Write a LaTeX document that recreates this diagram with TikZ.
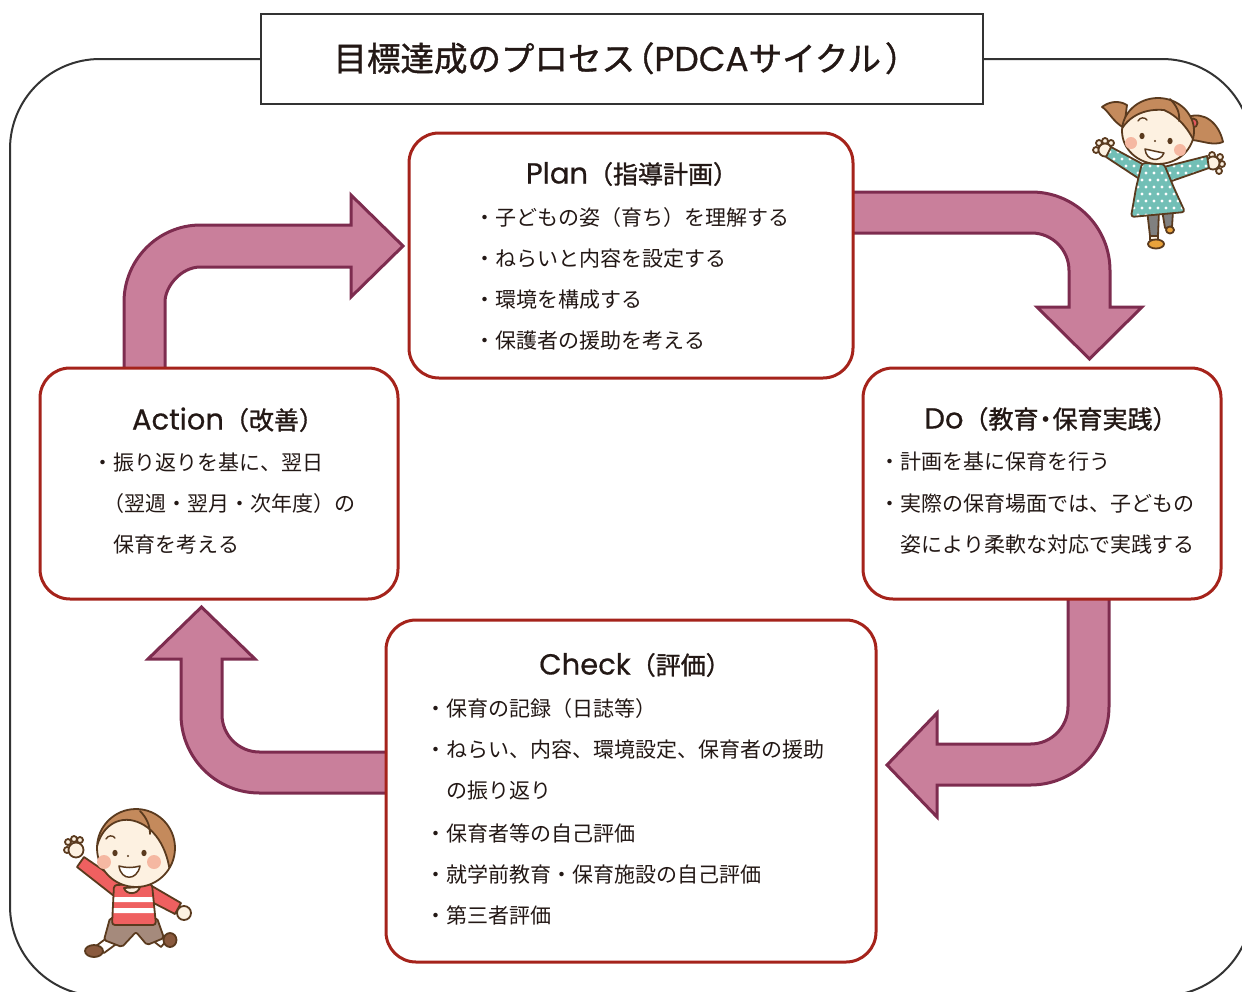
\documentclass[tikz,border=0pt]{standalone}
\usepackage{fontspec}
\setmainfont{Noto Sans CJK JP}
\newfontfamily\headfont{Noto Sans CJK JP}[FakeBold=1.2]
\newfontfamily\latinfont{Poppins}[FakeBold=0.5]

\definecolor{framegray}{HTML}{333333}
\definecolor{boxred}{HTML}{A5231B}
\definecolor{arrowpink}{HTML}{C97F9B}
\definecolor{arrowdark}{HTML}{7D2C4F}
\definecolor{ink}{HTML}{231815}
\definecolor{kidline}{HTML}{5A3A1E}
\definecolor{skin}{HTML}{FDF1E1}
\definecolor{cheek}{HTML}{F5B8A2}
\definecolor{hairbrown}{HTML}{C48A5C}
\definecolor{dressteal}{HTML}{72BFB6}
\definecolor{legsgray}{HTML}{808080}
\definecolor{shoeorange}{HTML}{E9A23B}
\definecolor{tiered}{HTML}{E4575F}
\definecolor{shirtred}{HTML}{EF6060}
\definecolor{shortsbrown}{HTML}{A58A7C}
\definecolor{shoebrown}{HTML}{8A5A3E}

% header text: Latin word in a geometric sans, Japanese in Noto
\newcommand{\hdlat}[1]{{\latinfont\fontsize{29}{30}\selectfont #1}}
\newcommand{\hdjp}[1]{{\headfont\fontsize{25}{30}\selectfont #1}}

\tikzset{
  frameline/.style={draw=framegray, line width=2pt},
  titlebox/.style={draw=framegray, line width=2pt, fill=white,
    minimum width=722pt, minimum height=90pt, inner sep=0pt},
  titletext/.style={text=ink, inner sep=0pt, anchor=base},
  stagebox/.style={draw=boxred, line width=3pt, fill=white,
    rounded corners=30pt, inner sep=0pt},
  blockarrow/.style={fill=arrowpink, draw=arrowdark, line width=3pt,
    line join=miter},
  stagetitle/.style={text=ink, inner sep=0pt, anchor=base},
  stageitem/.style={font=\fontsize{21}{25}\selectfont, text=ink,
    inner sep=0pt, anchor=west},
  kid/.style={draw=kidline, line width=1.8pt, line join=round, line cap=round},
  polka/.style={fill=dressteal, path picture={
    \foreach \yy in {0,...,14} {\foreach \xx in {0,...,18} {
      \fill[white] ({1094+8*\xx+4*mod(\yy,2)},{138+7*\yy}) circle (1.7pt);}}}},
}

\begin{document}
\begin{tikzpicture}[x=1pt, y=-1pt]
\path[use as bounding box] (0,0) rectangle (1242,991);

% outer frame
\begin{scope}
  \clip (0,0) rectangle (1242,991);
  \draw[frameline, rounded corners=90pt] (10,59) rectangle (1252,996);
\end{scope}

% title
\node[titlebox] (titlebox) at (622,59) {};
\node[titletext] (title) at (626,71)
  {{\headfont\fontsize{33.5}{38}\selectfont 目標達成のプロセス\kern-.42em（}%
   {\latinfont\fontsize{34.5}{38}\selectfont PDCA}%
   {\headfont\fontsize{33.5}{38}\selectfont サイクル\kern.12em）}};

% block arrows of the cycle
\draw[blockarrow] (124,380) -- (124,302)
  .. controls (124,259.75) and (158.25,225) .. (200.5,225) -- (351,225)
  -- (351,195) -- (403,246) -- (351,297) -- (351,267) -- (200.5,267)
  .. controls (180.9,267) and (165,286.6) .. (165,302) -- (165,380) -- cycle;
\draw[blockarrow] (840,192) -- (1031.5,192)
  .. controls (1074.9,192) and (1110,227.1) .. (1110,270.5) -- (1110,307)
  -- (1142,307) -- (1089.5,359) -- (1037,307) -- (1069,307) -- (1069,270.5)
  .. controls (1069,249.8) and (1052.2,233) .. (1031.5,233) -- (840,233) -- cycle;
\draw[blockarrow] (1068,590) -- (1109,590) -- (1109,706.5)
  .. controls (1109,749.9) and (1073.9,785) .. (1030.5,785) -- (937,785)
  -- (937,817) -- (887,765) -- (937,713) -- (937,744) -- (1030.5,744)
  .. controls (1051.2,744) and (1068,727.2) .. (1068,706.5) -- cycle;
\draw[blockarrow] (400,752) -- (400,793) -- (259.5,793)
  .. controls (216.1,793) and (181,757.9) .. (181,714.5) -- (181,659)
  -- (148,659) -- (201.5,607) -- (255,659) -- (222,659) -- (222,714.5)
  .. controls (222,735.2) and (238.8,752) .. (259.5,752) -- cycle;

% stage boxes
\node[stagebox, minimum width=444pt, minimum height=245pt] (plan) at (631,255.5) {};
\node[stagebox, minimum width=358pt, minimum height=231pt] (do) at (1042,483.5) {};
\node[stagebox, minimum width=358pt, minimum height=231pt] (action) at (219,483.5) {};
\node[stagebox, minimum width=490pt, minimum height=342pt] (check) at (631,791) {};

% Plan
\node[stagetitle] (planT) at (632,183.5) {\hdlat{Plan}\hdjp{（指導計画）}};
\node[stageitem] (plan1) at (474.5,217.5) {・子どもの姿（育ち）を理解する};
\node[stageitem] (plan2) at (474.5,258.5) {・ねらいと内容を設定する};
\node[stageitem] (plan3) at (474.5,300) {・環境を構成する};
\node[stageitem] (plan4) at (474.5,341) {・保護者の援助を考える};

% Do
\node[stagetitle] (doT) at (1051,428.5)
  {\hdlat{Do}\hdjp{（教育\kern-.22em・\kern-.22em保育実践）}};
\node[stageitem] (do1) at (879.5,462) {・計画を基に保育を行う};
\node[stageitem] (do2) at (879.5,503.5) {・実際の保育場面では、子どもの};
\node[stageitem] (do3) at (900.5,545) {姿により柔軟な対応で実践する};

% Action
\node[stagetitle] (actT) at (228,429.5) {\hdlat{Action}\hdjp{（改善）}};
\node[stageitem] (act1) at (92.5,463) {・振り返りを基に、翌日};
\node[stageitem] (act2) at (103,504) {（翌週・翌月・次年度）の};
\node[stageitem] (act3) at (113.5,545) {保育を考える};

% Check
\node[stagetitle] (chkT) at (635,674.5) {\hdlat{Check}\hdjp{（評価）}};
\node[stageitem] (chk1) at (425.5,709) {・保育の記録（日誌等）};
\node[stageitem] (chk2) at (425.5,750) {・ねらい、内容、環境設定、保育者の援助};
\node[stageitem] (chk3) at (446.5,791) {の振り返り};
\node[stageitem] (chk4) at (425.5,833) {・保育者等の自己評価};
\node[stageitem] (chk5) at (425.5,874) {・就学前教育・保育施設の自己評価};
\node[stageitem] (chk6) at (425.5,915) {・第三者評価};

% girl, upper right
\draw[kid, fill=legsgray] (1162,210) -- (1173,211) -- (1172,227) -- (1165,228) -- cycle;
\draw[kid, fill=shoeorange] (1170,230) ellipse (4 and 3.5);
\draw[kid, fill=legsgray] (1147,210) -- (1159,210) -- (1158,236) -- (1150,236) -- cycle;
\draw[kid, fill=skin] (1150,236) -- (1158,236) -- (1158,240) -- (1150,240) -- cycle;
\draw[kid, fill=shoeorange] (1156,244) ellipse (8 and 4.5);
\foreach \p in {(1099,143),(1096,150),(1105,141),(1111,143)}
  \draw[kid, fill=skin] \p circle (3);
\draw[kid, fill=skin] (1105,150) circle (6.5);
\foreach \p in {(1220,157),(1222,164),(1219,171),(1212,155)}
  \draw[kid, fill=skin] \p circle (3);
\draw[kid, fill=skin] (1213,163) circle (6.5);
\draw[kid, polka] (1148,167) -- (1111,147) -- (1106,157) -- (1141,180) -- cycle;
\draw[kid, polka] (1160,168) -- (1207,156) -- (1209,168) -- (1166,183) -- cycle;
\draw[kid, polka, rounded corners=3pt] (1142,163) -- (1164,164) -- (1174,188)
  -- (1185,212) -- (1131,217) -- (1136,188) -- cycle;
\draw[kid, fill=hairbrown] (1127,105) .. controls (1117,99) and (1107,103) .. (1102,107)
  .. controls (1108,110) and (1112,121) .. (1124,128) -- cycle;
\draw[kid, fill=hairbrown] (1188,117) .. controls (1204,111) and (1219,123) .. (1223,142)
  .. controls (1213,146) and (1203,141) .. (1192,140) -- cycle;
\draw[kid, fill=tiered] (1193,123) circle (4.5);
\fill[skin] (1158,131) ellipse (36 and 33);
\begin{scope}
  \clip (1158,131) ellipse (36 and 33);
  \fill[hairbrown] (1116,142) .. controls (1122,120) and (1140,108) .. (1164,110)
    .. controls (1178,116) and (1190,130) .. (1196,146) -- (1200,90) -- (1115,90) -- cycle;
  \draw[kid] (1116,142) .. controls (1122,120) and (1140,108) .. (1164,110)
    .. controls (1178,116) and (1190,130) .. (1196,146);
\end{scope}
\draw[kid] (1158,131) ellipse (36 and 33);
\draw[kid] (1170,99) .. controls (1177,106) and (1180,113) .. (1179,121);
\fill[cheek] (1131,143) circle (6);
\fill[cheek] (1180,150) circle (6);
\fill[kidline] (1142,136) ellipse (2.6 and 3.2);
\fill[kidline] (1170,141) ellipse (2.6 and 3.2);
\fill[kidline] (1155,141) circle (1.1);
\draw[kid, line width=1.4pt] (1138,121) .. controls (1140,117) and (1145,117) .. (1147,120);
\draw[kid, fill=white, line width=1.5pt] (1145,149) .. controls (1146,161) and (1160,163) .. (1164,153)
  .. controls (1158,152) and (1150,150) .. (1145,149) -- cycle;

% boy, lower left
\draw[kid, fill=white] (108,937) -- (119,942) -- (104,953) -- (96,946) -- cycle;
\draw[kid, fill=shoebrown] (94,951) ellipse (9 and 6);
\draw[kid, fill=white] (148,937) -- (158,933) -- (167,940) -- (161,947) -- cycle;
\draw[kid, fill=shoebrown] (170,940) ellipse (6.5 and 7);
\foreach \p in {(68,842),(74,839),(80,840),(67,850)}
  \draw[kid, fill=skin] \p circle (3);
\draw[kid, fill=skin] (76,850) circle (7.5);
\draw[kid, fill=shirtred] (122,883) -- (84,857) -- (77,867) -- (114,896) -- cycle;
\draw[kid, fill=skin] (184,913) circle (7);
\draw[kid, fill=shirtred] (145,882) -- (181,903) -- (175,914) -- (142,897) -- cycle;
\draw[kid, fill=shortsbrown, rounded corners=2pt] (110,918) -- (157,918) -- (164,938)
  -- (147,945) -- (136,932) -- (122,947) -- (104,940) -- cycle;
\draw[kid, fill=shirtred, rounded corners=3pt,
  path picture={\fill[white] (100,897) rectangle (170,902);
                \fill[white] (100,908) rectangle (170,913);}]
  (114,885) -- (152,884) -- (156,925) -- (112,925) -- cycle;
\draw[kid, fill=skin] (124,888) .. controls (126,895) and (138,895) .. (140,887) -- cycle;
\fill[skin] (136,848) circle (39);
\begin{scope}
  \clip (136,848) circle (39);
  \fill[hairbrown] (95,858) .. controls (97,832) and (112,818) .. (130,820)
    .. controls (150,823) and (166,842) .. (170,872) -- (180,872) -- (180,800) -- (90,800) -- cycle;
  \draw[kid] (95,858) .. controls (97,832) and (112,818) .. (130,820)
    .. controls (150,823) and (166,842) .. (170,872);
\end{scope}
\draw[kid] (136,848) circle (39);
\draw[kid] (140,811) .. controls (147,818) and (150,826) .. (150,834);
\fill[cheek] (104,862) circle (7);
\fill[cheek] (154,862) circle (7);
\fill[kidline] (115,853) ellipse (2.6 and 3.2);
\fill[kidline] (144,853) ellipse (2.6 and 3.2);
\fill[kidline] (128,856) circle (1.1);
\draw[kid, line width=1.4pt] (106,839) .. controls (108,835) and (113,835) .. (115,838);
\draw[kid, fill=white, line width=1.5pt] (119,866) .. controls (121,881) and (137,881) .. (140,866)
  .. controls (133,868) and (126,868) .. (119,866) -- cycle;
\end{tikzpicture}
\end{document}
